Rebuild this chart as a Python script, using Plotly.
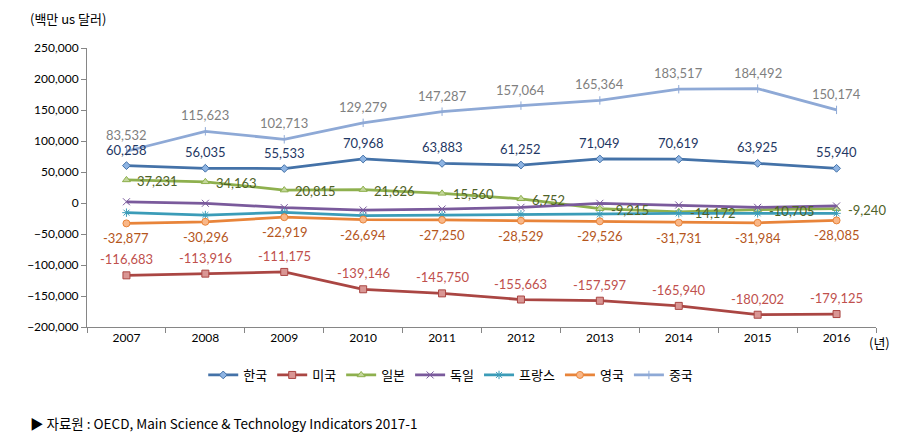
import plotly.graph_objects as go

years = ["2007", "2008", "2009", "2010", "2011", "2012", "2013", "2014", "2015", "2016"]

korea = [60258, 56035, 55533, 70968, 63883, 61252, 71049, 70619, 63925, 55940]
usa = [-116683, -113916, -111175, -139146, -145750, -155663, -157597, -165940, -180202, -179125]
japan = [37231, 34163, 20815, 21626, 15560, 6752, -9215, -14172, -10705, -9240]
germany = [2000, -500, -7500, -11300, -9700, -7000, -500, -3200, -7000, -4800]
france = [-15600, -19400, -15000, -20400, -19400, -18300, -18300, -16700, -16700, -16700]
uk = [-32877, -30296, -22919, -26694, -27250, -28529, -29526, -31731, -31984, -28085]
china = [83532, 115623, 102713, 129279, 147287, 157064, 165364, 183517, 184492, 150174]

series = [
    ("한국", korea, "#4472A8", "diamond", 6, "#1F3864", "top"),
    ("미국", usa, "#AA4643", "square", 7, "#C0504D", "top"),
    ("일본", japan, "#8EB04E", "triangle-up", 7, "#4F6228", "right"),
    ("독일", germany, "#7A5A9C", "x-thin-open", 7, None, None),
    ("프랑스", france, "#3B9CB8", "asterisk-open", 7, None, None),
    ("영국", uk, "#E8843A", "circle", 7, "#B5561C", "bottom"),
    ("중국", china, "#8EA9D6", "line-ns-open", 6, "#7F7F7F", "top"),
]

FONT = "Lato, 'Noto Sans CJK KR', sans-serif"

fill_colors = {"미국": "#D99694", "일본": "#C3D69B", "영국": "#F9B788", "한국": "#8EB4E3"}

fig = go.Figure()
annotations = []
for name, vals, color, sym, msize, lcolor, pos in series:
    fill = fill_colors.get(name, color)
    fig.add_trace(go.Scatter(
        x=years, y=vals, name=name, mode="lines+markers",
        line=dict(color=color, width=2.75),
        marker=dict(symbol=sym, size=msize, color=fill,
                    line=dict(color=color, width=1)),
    ))
    if pos is None:
        continue
    for i, yv in enumerate(vals):
        a = dict(x=i, y=yv, xref="x", yref="y", text=f"{yv:,}", showarrow=False,
                 font=dict(family=FONT, size=13, color=lcolor))
        if pos == "top":
            a.update(yshift=16)
        elif pos == "bottom":
            a.update(yshift=-15)
        elif pos == "right":
            a.update(xanchor="left", xshift=9, yshift=-1)
        annotations.append(a)

annotations += [
    dict(x=-0.075, y=1.1075, xref="paper", yref="paper", xanchor="left", yanchor="middle",
         text="(백만 us 달러)", showarrow=False,
         font=dict(family="'Noto Sans CJK KR', sans-serif", size=13, color="#000000")),
    dict(x=0.9886, y=-0.057, xref="paper", yref="paper", xanchor="left", yanchor="middle",
         text="(년)", showarrow=False,
         font=dict(family="'Noto Sans CJK KR', sans-serif", size=13, color="#000000")),
    dict(x=-0.0748, y=-0.344, xref="paper", yref="paper", xanchor="left", yanchor="middle",
         text="▶ 자료원 : OECD, Main Science &amp; Technology Indicators 2017-1", showarrow=False,
         font=dict(family="'Noto Sans CJK KR', sans-serif", size=13.5, color="#000000")),
]

fig.update_layout(
    width=901, height=445,
    margin=dict(l=87, r=25, t=48, b=118),
    paper_bgcolor="white", plot_bgcolor="white",
    font=dict(family=FONT, size=12, color="#000000"),
    showlegend=True,
    legend=dict(orientation="h", x=0.461, y=-0.172, xanchor="center", yanchor="middle",
                font=dict(family="'Noto Sans CJK KR', sans-serif", size=13, color="#000000"),
                itemwidth=30, tracegroupgap=0),
    annotations=annotations,
    xaxis=dict(type="category", showgrid=False, showline=True, linecolor="#868686", linewidth=1,
               ticks="outside", tickson="boundaries", ticklen=5, tickcolor="#868686",
               tickfont=dict(family=FONT, size=12, color="#000000"),
               range=[-0.5, 9.5]),
    yaxis=dict(range=[-200000, 250000], dtick=50000, tickformat=",d", showgrid=False,
               zeroline=False, showline=True, linecolor="#868686", linewidth=1,
               ticks="outside", ticklen=5, tickcolor="#868686",
               tickfont=dict(family=FONT, size=12, color="#000000")),
)

fig.write_html("out.html")
